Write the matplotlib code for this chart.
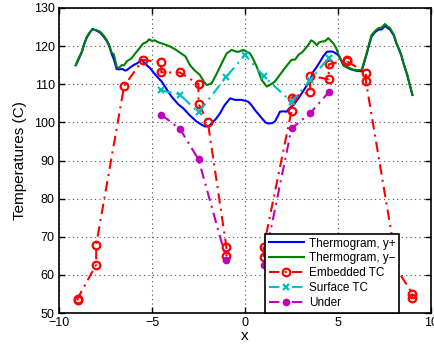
import numpy as np
import matplotlib
matplotlib.use("Agg")
import matplotlib.pyplot as plt

plt.rcParams['font.family'] = ['Liberation Sans', 'DejaVu Sans']

nan = np.nan

# Thermogram, y+ (blue)
therm_plus_x = [-9.1, -8.95, -8.78, -8.65, -8.5, -8.35, -8.2, -8.0, -7.8, -7.6, -7.44, -7.3, -7.17, -7.05,
                -6.9, -6.8, -6.6, -6.45, -6.36, -6.2, -6.0, -5.8, -5.55, -5.35, -5.1, -4.8, -4.48, -4.2,
                -3.94, -3.6, -3.3, -3.0, -2.6, -2.3, -2.15, -1.95, -1.8, -1.55, -1.34, -1.1, -0.8, -0.54,
                -0.18, 0.05, 0.18, 0.35, 0.54, 0.75, 0.9, 1.1, 1.25, 1.45, 1.6, 1.75, 1.88, 2.05, 2.24, 2.4,
                2.6, 2.8, 3.05, 3.3, 3.5, 3.67, 3.85, 4.03, 4.2, 4.4, 4.6, 4.75, 5.0, 5.15, 5.28, 5.45, 5.65,
                5.85, 6.0, 6.27, 6.4, 6.54, 6.7, 6.8, 7.0, 7.17, 7.35, 7.53, 7.65, 7.8, 8.0, 8.15, 8.3, 8.4,
                8.55, 8.7, 8.85, 9.0]
therm_plus_y = [115.0, 116.5, 118.3, 120.5, 122.3, 123.5, 124.5, 124.1, 123.6, 122.5, 121.4, 120.0, 118.0, 116.5,
                114.0, 113.9, 114.0, 113.6, 113.7, 114.3, 115.0, 115.5, 116.4, 115.3, 114.2, 112.4, 110.7, 108.6,
                106.7, 104.8, 103.6, 102.0, 100.2, 99.3, 98.9, 99.0, 99.7, 101.0, 102.4, 104.5, 106.3, 105.9,
                105.9, 105.6, 105.4, 104.5, 103.2, 102.0, 101.1, 100.0, 99.7, 99.8, 100.2, 101.5, 102.8, 102.9, 102.8, 103.8,
                104.5, 105.8, 107.6, 109.5, 111.1, 113.3, 114.5, 115.9, 117.3, 118.5, 118.6, 118.5, 117.7, 116.5, 115.0, 114.5, 114.0,
                113.7, 113.5, 113.4, 115.6, 117.9, 120.8, 122.5, 123.7, 124.3, 124.4, 125.3, 124.8, 124.3, 122.8, 120.6, 118.9, 117.6,
                115.0, 112.8, 110.0, 107.2]

# Thermogram, y- (green)
therm_minus_x = [-9.1, -8.95, -8.78, -8.65, -8.5, -8.35, -8.2, -8.0, -7.8, -7.6, -7.44, -7.3, -7.17, -7.05,
                 -6.9, -6.8, -6.63, -6.5, -6.36, -6.1, -5.9, -5.7, -5.47, -5.3, -5.16, -5.0, -4.85, -4.66,
                 -4.4, -4.12, -3.8, -3.5, -3.2, -2.96, -2.7, -2.42, -2.2, -2.06, -1.8, -1.55, -1.34, -1.15,
                 -0.98, -0.72, -0.5, -0.36, -0.09, 0.1, 0.27, 0.45, 0.63, 0.9, 1.17, 1.4, 1.6, 1.85, 2.06,
                 2.3, 2.5, 2.7, 2.87, 3.1, 3.4, 3.55, 3.67, 3.85, 4.0, 4.12, 4.3, 4.48, 4.62, 4.75, 4.9, 5.0,
                 5.15, 5.3, 5.45, 5.65, 5.85, 6.0, 6.27, 6.4, 6.54, 6.7, 6.8, 7.0, 7.17, 7.35, 7.53, 7.65,
                 7.8, 8.0, 8.15, 8.3, 8.4, 8.55, 8.7, 8.85, 9.0]
therm_minus_y = [115.0, 116.8, 118.5, 120.5, 122.5, 123.6, 124.4, 124.2, 123.8, 122.8, 121.6, 120.2, 118.3, 117.8,
                 114.6, 114.2, 115.0, 115.0, 116.0, 116.8, 118.1, 119.3, 120.7, 121.0, 121.8, 121.4, 121.5, 121.0,
                 120.6, 120.1, 119.3, 118.3, 117.3, 115.0, 113.6, 112.4, 110.6, 109.8, 110.2, 112.5, 114.6, 116.5,
                 118.1, 119.0, 118.6, 118.5, 119.0, 118.5, 118.1, 116.5, 114.6, 111.1, 109.4, 110.0, 110.7, 112.3, 113.7,
                 115.2, 116.4, 116.5, 117.7, 118.5, 120.3, 121.5, 121.2, 120.3, 121.0, 121.2, 121.3, 122.1, 121.4, 120.7, 119.5, 118.1,
                 116.5, 115.0, 114.6, 114.2, 113.8, 113.7, 113.7, 115.8, 118.1, 121.0, 122.9, 124.0, 124.7, 124.9, 125.8, 125.2,
                 124.7, 123.0, 120.7, 119.0, 117.7, 115.0, 112.9, 110.0, 107.2]

# Embedded TC
emb_x = [-9.0, -9.0, -8.0, -8.0, -6.5, -5.5, -4.5, -4.5, -3.5, -2.5, -2.5, -2.0, -1.0, -1.0, 0.0,
         1.0, 1.0, 2.5, 2.5, 3.5, 3.5, 4.5, 4.5, 5.5, 5.5, 6.5, 6.5, 8.0, 8.0, 9.0, 9.0]
emb_y = [53.3, 53.8, 62.7, 67.9, 109.5, 116.4, 115.8, 113.1, 113.1, 110.0, 104.9, 100.1, 67.3, 64.9, nan,
         64.7, 67.3, 103.0, 106.5, 108.0, 112.2, 111.3, 115.2, 116.4, 116.0, 113.0, 110.8, 67.3, 62.7, 55.1, 54.0]

# Surface TC
surf_x = [-4.5, -3.5, -2.5, -1.0, 0.0, 1.0, 2.5, 3.5, 4.5]
surf_y = [108.4, 107.3, 102.6, 112.0, 117.7, 112.1, 105.4, 111.0, 117.0]

# Under
under_x = [-4.5, -3.5, -2.5, -1.0, 0.0, 1.0, 2.5, 3.5, 4.5]
under_y = [102.0, 98.3, 90.3, 64.0, nan, 62.6, 98.4, 102.4, 107.9]

x_ticks = [-10, -5, 0, 5, 10]
y_ticks = [50, 60, 70, 80, 90, 100, 110, 120, 130]

fig = plt.figure(figsize=(4.34, 3.45), dpi=100)
ax = fig.add_axes([59/434, 1-313/345, (431-59)/434, (313-8)/345])

dashdot = (0, (5, 2.5, 1, 2.5))
ax.plot(therm_plus_x, therm_plus_y, color=(0, 0, 1), lw=1.5, label="Thermogram, y+")
ax.plot(therm_minus_x, therm_minus_y, color=(0, 0.5, 0), lw=1.5, label="Thermogram, y\u2212")
ax.plot(emb_x, emb_y, color=(1, 0, 0), lw=1.5, ls=dashdot, marker='o', ms=5.5,
        mfc='none', mec=(1, 0, 0), mew=1.6, label="Embedded TC")
ax.plot(surf_x, surf_y, color=(0, 0.75, 0.75), lw=1.5, ls=dashdot, marker='x', ms=4.5,
        mew=1.6, label="Surface TC")
ax.plot(under_x, under_y, color=(0.75, 0, 0.75), lw=1.5, ls=dashdot, marker='o', ms=4.5,
        mfc=(0.75, 0, 0.75), mec=(0.75, 0, 0.75), label="Under")

ax.set_xlim(-10, 10)
ax.set_ylim(50, 130)
ax.set_xticks(x_ticks)
ax.set_yticks(y_ticks)
ax.set_xticklabels([str(t).replace('-', '\u2212') for t in x_ticks])
ax.grid(True, ls=(0, (1, 3)), color='0.3', lw=0.8)
ax.tick_params(direction='in', top=True, right=True, labelsize=9, length=4, width=1, pad=3)
for s in ax.spines.values():
    s.set_linewidth(1.2)
ax.set_xlabel("x", fontsize=11, labelpad=0)
ax.set_ylabel("Temperatures (C)", fontsize=11, labelpad=5)

leg = ax.legend(loc='upper left', bbox_to_anchor=(265/434, 1-234/345), bbox_transform=fig.transFigure,
                fontsize=8.5, fancybox=False, framealpha=1, edgecolor='black', borderaxespad=0,
                handlelength=3.0, labelspacing=0.25, borderpad=0.3, handletextpad=0.4)
leg.get_frame().set_linewidth(1.2)
leg.set_clip_on(False)

fig.savefig("out.png", dpi=100)
